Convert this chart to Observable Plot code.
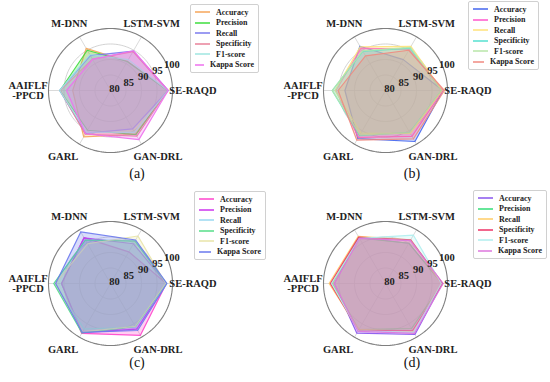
<!DOCTYPE html>
<html><head><meta charset="utf-8">
<script src="https://cdn.jsdelivr.net/npm/d3@7"></script>
<script src="https://cdn.jsdelivr.net/npm/@observablehq/plot@0.6"></script>
<style>
body{margin:0;background:#fff}
#fig{position:relative;width:550px;height:382px;overflow:hidden;background:#fff;font-family:"Liberation Serif","Times New Roman",serif}
.panel{position:absolute;width:275px;height:191px}
.legend{position:absolute;border:1px solid #d0d0d0;border-radius:2px;background:#fff;padding:2px 4px 2px 4px;font-weight:bold;font-size:8px;color:#222;box-sizing:border-box}
.row{display:flex;align-items:center;height:10.5px;white-space:nowrap}
.sw{width:15px;height:0;border-top:2px solid;margin-right:6px;opacity:.75}
.tag{position:absolute;font-size:14px;transform:translateX(-50%);color:#111}
</style></head>
<body><div id="fig"></div>
<script>
// ---- data ----
const categories = ["SE-RAQD", "LSTM-SVM", "M-DNN", "AAIFLF\n-PPCD", "GARL", "GAN-DRL"];
const seriesNames = ["Accuracy", "Precision", "Recall", "Specificity", "F1-score", "Kappa Score"];
const radialTicks = [80, 85, 90, 95, 100];
const panelLabels = ["(a)", "(b)", "(c)", "(d)"];

// values per series, in category order
const valuesA = [
  [98.5, 90.9, 95.7, 92.2, 97.3, 96.3],  // Accuracy
  [98.4, 90.8, 95.0, 96.3, 94.8, 96.4],  // Precision
  [98.6, 94.7, 93.0, 96.4, 96.0, 94.3],  // Recall
  [98.5, 94.5, 91.7, 96.2, 96.3, 97.0],  // Specificity
  [98.5, 91.5, 93.4, 96.4, 95.5, 95.6],  // F1-score
  [98.6, 94.8, 91.6, 94.2, 96.1, 98.3]   // Kappa Score
];
const valuesB = [
  [98.5, 91.5, 96.5, 93.1, 97.9, 99.0],
  [98.5, 95.3, 95.8, 96.0, 97.5, 97.1],
  [98.3, 96.4, 96.3, 96.3, 95.9, 96.0],
  [98.0, 95.8, 94.6, 97.2, 96.8, 95.6],
  [98.0, 96.1, 94.8, 97.2, 96.5, 95.8],
  [99.0, 95.0, 92.9, 95.3, 98.5, 98.0]
];
const valuesC = [
  [98.0, 91.8, 97.1, 95.8, 98.6, 99.3],
  [98.0, 94.8, 97.0, 95.8, 98.3, 97.0],
  [98.2, 96.0, 96.2, 98.2, 97.0, 96.2],
  [98.0, 95.8, 96.2, 98.3, 98.4, 96.0],
  [97.8, 97.7, 94.8, 97.8, 98.0, 96.0],
  [98.2, 96.2, 99.2, 97.7, 98.2, 97.5]
];
const valuesD = [
  [98.3, 95.0, 97.2, 96.5, 98.5, 99.0],
  [98.3, 95.0, 97.0, 97.2, 97.2, 96.8],
  [98.0, 96.3, 97.6, 98.2, 97.2, 97.8],
  [98.5, 96.3, 97.3, 97.8, 97.5, 97.5],
  [98.0, 98.0, 96.8, 97.4, 97.6, 98.2],
  [98.6, 96.0, 96.8, 96.5, 97.8, 98.6]
];

const colorsA = ["#f5a55a", "#3ddd3d", "#7b7bee", "#e8829a", "#9fe6e0", "#ee70ee"];
const colorsB = ["#4466ee", "#ff55cc", "#ffe27a", "#55e0d0", "#b8e6a8", "#f08a80"];
const colorsC = ["#ff44cc", "#cc33ee", "#99d8f0", "#55dd88", "#e8e4a8", "#6a78ee"];
const colorsD = ["#8855ee", "#33dd77", "#ffcc66", "#ee3366", "#b0eeee", "#dd77dd"];

// ---- layout ----
const panels = [
  {values: valuesA, colors: colorsA, left: 0,   top: 0,   cy: 90, legend: {x: 190, y: 4,   w: 69}, tag: {x: 137, y: 166}},
  {values: valuesB, colors: colorsB, left: 275, top: 0,   cy: 90, legend: {x: 468, y: 1,   w: 71}, tag: {x: 412, y: 166}},
  {values: valuesC, colors: colorsC, left: 0,   top: 191, cy: 92, legend: {x: 194, y: 191, w: 72}, tag: {x: 137, y: 355}},
  {values: valuesD, colors: colorsD, left: 275, top: 191, cy: 92, legend: {x: 473, y: 190, w: 74}, tag: {x: 412, y: 355}}
];

const rMin = radialTicks[0], rMax = radialTicks[radialTicks.length - 1];
const rad = v => (v - rMin) / (rMax - rMin);
const ang = i => i * Math.PI / 3;
const fig = document.getElementById("fig");

for (const [k, p] of panels.entries()) {
  const W = 275, H = 191, R = 62, cx = 110;
  const rings = radialTicks.slice(1).flatMap(t => d3.range(0, 361, 2).map(d => ({t, a: d * Math.PI / 180})));
  const spokes = categories.map((c, i) => ({i}));
  const marks = [
    Plot.line(rings.filter(d => d.t < rMax), {x: d => rad(d.t) * Math.cos(d.a), y: d => rad(d.t) * Math.sin(d.a), z: "t", stroke: "#c6c6c6", strokeWidth: 0.8}),
    Plot.link(spokes, {x1: 0, y1: 0, x2: d => Math.cos(ang(d.i)), y2: d => Math.sin(ang(d.i)), stroke: "#d0d0d0", strokeWidth: 0.8})
  ];
  p.values.forEach((vals, s) => {
    const pts = vals.map((v, i) => ({v, i}));
    marks.push(Plot.line(pts, {
      x: d => rad(d.v) * Math.cos(ang(d.i)), y: d => rad(d.v) * Math.sin(ang(d.i)),
      curve: "linear-closed", fill: p.colors[s], fillOpacity: 0.26,
      stroke: p.colors[s], strokeWidth: 1.2, strokeOpacity: 0.9
    }));
  });
  marks.push(Plot.line(rings.filter(d => d.t === rMax), {x: d => Math.cos(d.a), y: d => Math.sin(d.a), stroke: "#7f7f7f", strokeWidth: 1.1}));
  const la = 22.5 * Math.PI / 180;
  marks.push(Plot.text(radialTicks, {
    x: t => (rad(t) + 0.07) * Math.cos(la), y: t => (rad(t) + 0.07) * Math.sin(la), text: t => String(t),
    fontWeight: "bold", fontSize: 10.5, fill: "#222", fontFamily: "Liberation Serif"
  }));
  marks.push(Plot.text(categories, {
    x: (c, i) => 1.33 * Math.cos(ang(i)) * (i >= 4 ? 1.15 : 1), y: (c, i) => 1.33 * Math.sin(ang(i)) * 0.93, text: c => c,
    fontWeight: "bold", fontSize: 10.5, fill: "#222", fontFamily: "Liberation Serif", lineAnchor: "middle", textAnchor: "middle"
  }));

  const chart = Plot.plot({
    width: W, height: H, margin: 0,
    x: {domain: [-cx / R, (W - cx) / R], axis: null},
    y: {domain: [-(H - p.cy) / R, p.cy / R], axis: null},
    style: {background: "transparent", overflow: "visible"},
    marks
  });
  const div = document.createElement("div");
  div.className = "panel";
  div.style.left = p.left + "px"; div.style.top = p.top + "px";
  div.appendChild(chart);
  fig.appendChild(div);

  const lg = document.createElement("div");
  lg.className = "legend";
  lg.style.left = p.legend.x + "px"; lg.style.top = p.legend.y + "px"; lg.style.width = p.legend.w + "px";
  seriesNames.forEach((n, s) => {
    const row = document.createElement("div");
    row.className = "row";
    const sw = document.createElement("span");
    sw.className = "sw"; sw.style.borderTopColor = p.colors[s];
    const tx = document.createElement("span");
    tx.textContent = n;
    row.appendChild(sw); row.appendChild(tx);
    lg.appendChild(row);
  });
  fig.appendChild(lg);

  const tag = document.createElement("div");
  tag.className = "tag";
  tag.style.left = p.tag.x + "px"; tag.style.top = p.tag.y + "px";
  tag.textContent = panelLabels[k];
  fig.appendChild(tag);
}
</script>
</body></html>
